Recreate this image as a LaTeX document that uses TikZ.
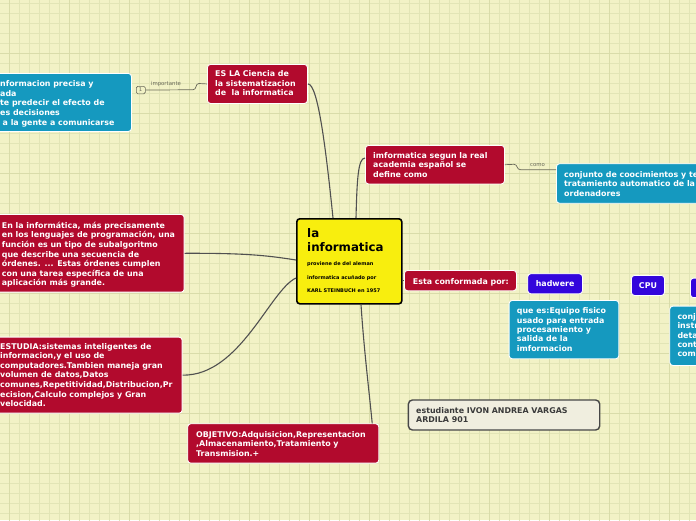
\documentclass[tikz,border=0pt]{standalone}
\usepackage{fontspec}
\setmainfont{DejaVu Sans}
\usetikzlibrary{calc}
\definecolor{bgc}{HTML}{F2F2C6}
\definecolor{gridc}{HTML}{E2E5B6}
\definecolor{gridm}{HTML}{D9DCAA}
\definecolor{redc}{HTML}{B20A2D}
\definecolor{bluec}{HTML}{1599BF}
\definecolor{violc}{HTML}{3306DC}
\definecolor{yelc}{HTML}{F8EE0E}
\definecolor{stuf}{HTML}{F0EEDF}
\definecolor{stud}{HTML}{474747}
\definecolor{stut}{HTML}{3A3A3A}
\definecolor{connc}{HTML}{505050}
\definecolor{lblc}{HTML}{6A6A5A}
\newcommand\bxfont{\bfseries\fontsize{7.9}{9.6}\selectfont}
\tikzset{
 boxbase/.style={draw=white, line width=0.9pt, rounded corners=3pt, anchor=north west, inner sep=0pt},
 redbox/.style={boxbase, fill=redc},
 bluebox/.style={boxbase, fill=bluec},
 violbox/.style={boxbase, fill=violc, text=white, font=\bxfont},
 btext/.style={anchor=north west, inner sep=0pt, align=left, font=\bxfont, text=white},
 conn/.style={draw=connc, line width=1.1pt},
 thinconn/.style={draw=lblc, line width=0.7pt},
 lbl/.style={font=\fontsize{5.4}{6}\selectfont, text=lblc, inner sep=0pt},
 bigt/.style={anchor=base west, inner sep=0pt, font=\bfseries\fontsize{11.8}{14}\selectfont},
 smallt/.style={anchor=base west, inner sep=0pt, font=\bfseries\fontsize{5}{6}\selectfont},
}
\begin{document}
\begin{tikzpicture}[x=1pt,y=-1pt]
\fill[bgc] (0,0) rectangle (696,520);
\useasboundingbox (0,0) rectangle (696,520);
\clip (0,0) rectangle (696,520);
\draw[gridc, line width=0.6pt, shift={(9.3,3.3)}] (-20,-20) grid[xstep=10pt,ystep=10pt] (700,530);
\draw[gridm, line width=0.7pt, shift={(9.3,53.3)}] (-70,-70) grid[xstep=60pt,ystep=60pt] (700,530);

% central
\node[draw=black, line width=1.6pt, fill=yelc, rounded corners=3pt, anchor=north west, inner sep=0pt, minimum width=105pt, minimum height=85pt] (cen) at (296,218) {};
\node[bigt] (cen-t1) at (307,237.5) {la};
\node[bigt] (cen-t2) at (307,251.5) {informatica};
\node[smallt] (cen-t3) at (307,265.5) {proviene de del aleman};
\node[smallt] (cen-t4) at (307,279) {informatica acuñado por};
\node[smallt] (cen-t5) at (307,292.6) {KARL STEINBUCH en 1957};

% ES LA
\node[redbox, minimum width=100pt, minimum height=39pt] (es) at (207,64) {};
\node[btext] (es-t) at (215,70.5) {ES LA Ciencia de\\la sistematizacion\\de\ \ la informatica};

% blue left
\node[bluebox, minimum width=141pt, minimum height=58pt] (bl) at (-10,73) {};
\node[btext] (bl-t) at (0,80.5) {nformacion precisa y\\ada\\te predecir el efecto de\\es decisiones\\\hspace*{2.5pt}a la gente a comunicarse};

\node[draw=lblc, line width=0.6pt, rounded corners=1.5pt, anchor=north west, minimum width=9pt, minimum height=7.5pt, inner sep=0pt, font=\fontsize{5}{6}\selectfont, text=lblc] (one) at (136,86) {1};
\draw[thinconn] (es.west) -- (199,83.5) .. controls (195,83.5) and (197,89.75) .. (193,89.75) -- (one.east);
\node[lbl] (imp) at (166,84.3) {importante};

% imformatica
\node[redbox, minimum width=139pt, minimum height=38.5pt] (imf) at (365,145) {};
\node[btext] (imf-t) at (373,151.8) {imformatica segun la real\\academia español se\\define como};
\node[bluebox, minimum width=150pt, minimum height=39.5pt] (br) at (556,163.3) {};
\node[btext] (br-t) at (564,170.8) {conjunto de coocimientos y te\\tratamiento automatico de la\\ordenadores};
\draw[thinconn] (imf.east) -- (514,164.3) .. controls (518,164.3) and (516,169.8) .. (521,169.8) -- ([yshift=-6.5pt]br.north west);
\node[lbl] (como) at (537.5,165.3) {como};

% left red boxes
\node[redbox, minimum width=193.7pt, minimum height=77.7pt] (enla) at (-10,214) {};
\node[btext] (enla-t) at (1.7,221.8) {En la informática, más precisamente\\en los lenguajes de programación, una\\función es un tipo de subalgoritmo\\que describe una secuencia de\\órdenes. ... Estas órdenes cumplen\\con una tarea específica de una\\aplicación más grande.};
\node[redbox, minimum width=191.7pt, minimum height=76pt] (est) at (-10,336.7) {};
\node[btext] (est-t) at (0,342.8) {ESTUDIA:sistemas inteligentes de\\informacion,y el uso de\\computadores.Tambien maneja gran\\volumen de datos,Datos\\comunes,Repetitividad,Distribucion,Pr\\ecision,Calculo complejos y Gran\\velocidad.};

% objetivo
\node[redbox, minimum width=191pt, minimum height=39.4pt] (obj) at (187.3,423.3) {};
\node[btext] (obj-t) at (196,430.8) {OBJETIVO:Adquisicion,Representacion\\,Almacenamiento,Tratamiento y\\Transmision.+};

% estudiante
\node[draw=stud, line width=1.4pt, fill=stuf, rounded corners=4pt, anchor=north west, inner sep=0pt, minimum width=191.3pt, minimum height=30pt] (stu) at (407.7,399.3) {};
\node[btext, text=stut] (stu-t) at (416,406.8) {estudiante IVON ANDREA VARGAS\\ARDILA 901};

% esta conformada
\node[redbox, minimum width=112pt, minimum height=20.3pt] (esta) at (404,270) {};
\node[btext, anchor=base west] (esta-t) at (412.7,284) {Esta conformada por:};
\node[violbox, minimum width=54.7pt, minimum height=20pt] (hw) at (527.3,273.3) {hadwere};
\node[violbox, minimum width=33pt, minimum height=20pt] (cpu) at (631,275) {CPU};
\node[violbox, minimum width=20pt, minimum height=19.5pt] (v3) at (690,277.7) {};
\node[bluebox, minimum width=109.6pt, minimum height=58.3pt] (qe) at (508.7,300) {};
\node[btext, font=\bfseries\fontsize{7.9}{9.4}\selectfont] (qe-t) at (516.7,307.5) {que es:Equipo fisico\\usado para entrada\\procesamiento y\\salida de la\\imformacion};
\node[bluebox, minimum width=40pt, minimum height=59.3pt] (rb2) at (669.3,305.7) {};
\node[btext, font=\bfseries\fontsize{7.9}{9.2}\selectfont] (rb2-t) at (677.3,313.5) {conj\\instr\\deta\\cont\\com};

% connectors
\draw[conn] ([xshift=37pt]cen.north west) .. controls (326,150) and (318,83.5) .. (es.east);
\draw[conn] ([xshift=60pt]cen.north west) .. controls (357,180) and (358,158) .. ([yshift=-13pt]imf.north west);
\draw[conn] ([yshift=-42pt]cen.north west) .. controls (270,256) and (250,253) .. (enla.east);
\draw[conn] ([yshift=-60pt]cen.north west) .. controls (270,290) and (240,376) .. (est.east);
\draw[conn] ([xshift=65pt]cen.south west) .. controls (364,350) and (369,390) .. ([xshift=-7pt]obj.north east);
\draw[conn] (cen.east |- esta.west) -- (esta.west);
\end{tikzpicture}
\end{document}
